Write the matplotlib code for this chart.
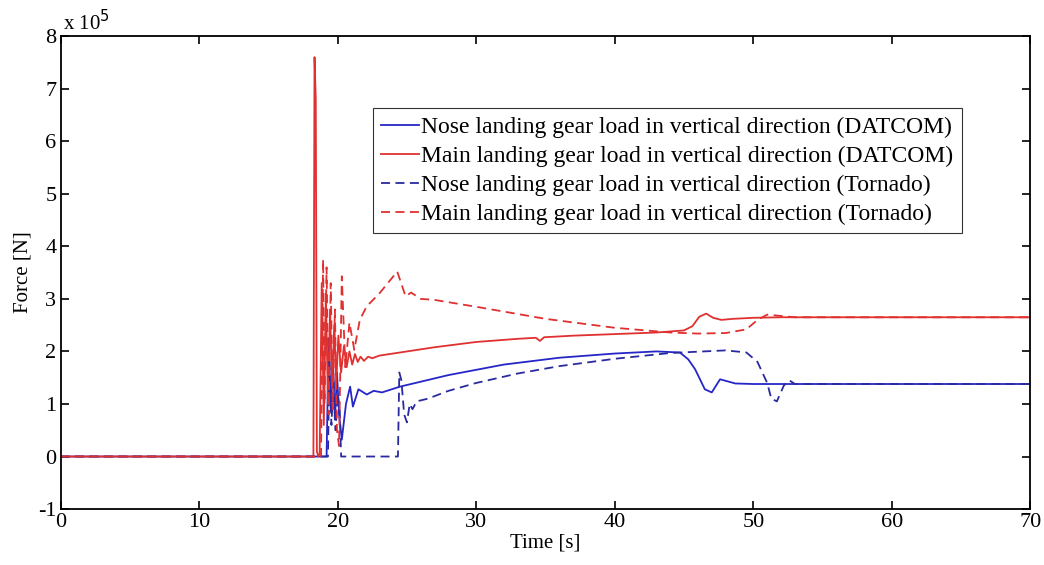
import matplotlib.pyplot as plt

plt.rcParams['font.family'] = ['Liberation Serif', 'DejaVu Serif']
plt.rcParams['axes.unicode_minus'] = False

# Main landing gear, DATCOM (force in 1e5 N)
t_main_d = [0, 18.25, 18.33, 18.42, 18.5, 18.6, 18.7, 18.85, 19.0, 19.15, 19.3, 19.45, 19.6, 19.75,
            19.9, 20.05, 20.25, 20.45, 20.65, 20.85, 21.05, 21.25, 21.45, 21.65, 21.9, 22.2, 22.5,
            23.0, 24.0, 25.0, 27.0, 30.0, 33.0, 34.3, 34.6, 34.9, 37.0, 40.0, 43.0, 45.0, 45.6,
            46.1, 46.6, 47.1, 47.7, 48.5, 50.0, 52.0, 70.0]
v_main_d = [0, 0, 7.6, 6.8, 0.1, 0.0, 0.05, 3.3, 0.6, 3.1, 1.0, 2.8, 1.3, 2.5,
            1.4, 2.3, 1.6, 2.1, 1.7, 2.0, 1.75, 1.95, 1.8, 1.9, 1.82, 1.9, 1.87,
            1.92, 1.96, 2.0, 2.08, 2.18, 2.24, 2.26, 2.2, 2.27, 2.3, 2.33, 2.36, 2.4, 2.48,
            2.66, 2.72, 2.64, 2.6, 2.62, 2.64, 2.65, 2.65]

# Main landing gear, Tornado
t_main_t = [0, 18.8, 18.95, 19.05, 19.2, 19.35, 19.5, 19.65, 19.8, 19.95, 20.1, 20.3, 20.55,
            20.85, 21.2, 21.6, 22.1, 23.0, 24.3, 24.9, 25.3, 26.0, 27.0, 30.0, 35.0, 40.0,
            44.0, 46.0, 48.0, 49.5, 50.3, 51.0, 51.8, 53.0, 70.0]
v_main_t = [0, 0, 3.75, 1.0, 3.6, 0.8, 3.3, 0.9, 2.8, 0.5, 0.2, 3.43, 1.7,
            2.55, 2.03, 2.6, 2.86, 3.1, 3.52, 3.05, 3.12, 3.0, 2.98, 2.85, 2.62, 2.45,
            2.36, 2.34, 2.35, 2.42, 2.6, 2.7, 2.68, 2.65, 2.65]

# Nose landing gear, DATCOM
t_nose_d = [0, 19.2, 19.35, 19.5, 19.65, 19.8, 19.95, 20.1, 20.3, 20.6, 20.9, 21.1, 21.5,
            22.1, 22.6, 23.2, 24.5, 25.3, 28.0, 32.0, 36.0, 40.0, 43.0, 44.7, 45.3, 45.8,
            46.5, 47.0, 47.6, 48.7, 50.0, 70.0]
v_nose_d = [0, 0, 2.25, 0.9, 1.9, 0.7, 1.6, 0.8, 0.32, 1.0, 1.33, 0.95, 1.28,
            1.18, 1.25, 1.22, 1.33, 1.38, 1.55, 1.75, 1.88, 1.96, 2.0, 1.98, 1.85, 1.66,
            1.28, 1.22, 1.47, 1.39, 1.38, 1.38]

# Nose landing gear, Tornado
t_nose_t = [0, 19.3, 19.4, 19.55, 19.7, 19.85, 20.0, 20.15, 20.25, 24.35, 24.45, 24.6, 24.8,
            25.0, 25.2, 25.4, 25.7, 26.5, 28.0, 30.0, 33.0, 36.0, 40.0, 44.0, 48.0, 49.5,
            50.3, 51.0, 51.3, 51.7, 52.2, 52.6, 53.0, 70.0]
v_nose_t = [0, 0, 1.8, 0.6, 1.5, 0.5, 1.2, 0.9, 0, 0, 1.6, 1.45, 0.8,
            0.65, 1.0, 0.9, 1.05, 1.1, 1.25, 1.4, 1.58, 1.72, 1.86, 1.97, 2.02, 1.98,
            1.8, 1.4, 1.1, 1.05, 1.35, 1.45, 1.38, 1.38]

labels = ['Nose landing gear load in vertical direction (DATCOM)',
          'Main landing gear load in vertical direction (DATCOM)',
          'Nose landing gear load in vertical direction (Tornado)',
          'Main landing gear load in vertical direction (Tornado)']

blue = '#2626c8'
red = '#e03030'

fig = plt.figure(figsize=(10.44, 5.65), dpi=100)
ax = fig.add_axes([0.058, 0.099, 0.929, 0.837])

ax.plot(t_nose_d, v_nose_d, color=blue, lw=1.3, label=labels[0])
ax.plot(t_main_d, v_main_d, color=red, lw=1.3, label=labels[1])
ax.plot(t_nose_t, v_nose_t, color='#2a2aa0', lw=1.3, ls=(0, (5, 3)), label=labels[2])
ax.plot(t_main_t, v_main_t, color=red, lw=1.3, ls=(0, (5, 3)), label=labels[3])

ax.set_xlim(0, 70)
ax.set_ylim(-1, 8)
ax.set_xticks(range(0, 71, 10))
ax.set_yticks(range(-1, 9))
ax.tick_params(direction='in', top=True, right=True, labelsize=16, length=6, width=1.2, pad=3)
for s in ax.spines.values():
    s.set_linewidth(1.3)
ax.set_xlabel('Time [s]', fontsize=15, labelpad=1)
ax.set_ylabel('Force [N]', fontsize=15, labelpad=4)
ax.text(0.003, 1.003, r'x 10$^5$', transform=ax.transAxes, fontsize=15, va='bottom')

leg = ax.legend(loc='upper left', bbox_to_anchor=(0.322, 0.848), fontsize=17,
                frameon=True, fancybox=False, handlelength=1.6, handletextpad=0.1,
                borderpad=0.35, labelspacing=0.32, borderaxespad=0)
leg.get_frame().set_edgecolor('black')
leg.get_frame().set_linewidth(0.8)

fig.savefig('out.png', dpi=100)
